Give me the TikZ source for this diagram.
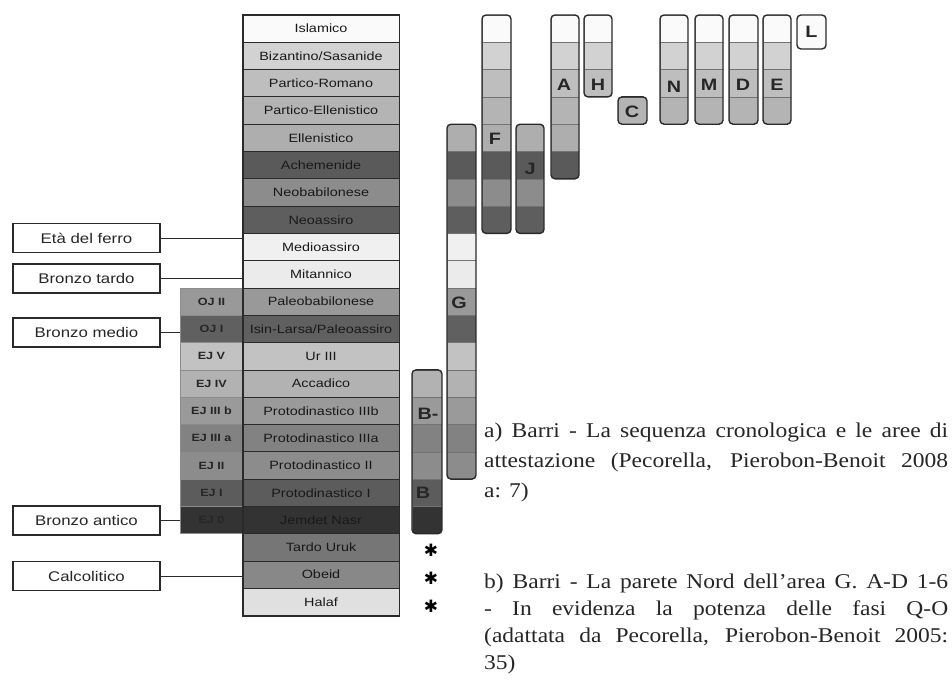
\documentclass[tikz,border=0pt]{standalone}
\usepackage{fontspec}
\setmainfont[FakeStretch=1.12]{Liberation Serif}
\newfontfamily\sansf[FakeStretch=1.2]{Liberation Sans}
\newfontfamily\symf{DejaVu Sans}
\definecolor{c0}{HTML}{FAFAFA}
\definecolor{c1}{HTML}{D2D2D2}
\definecolor{c2}{HTML}{BEBEBE}
\definecolor{c3}{HTML}{B4B4B4}
\definecolor{c4}{HTML}{AEAEAE}
\definecolor{c5}{HTML}{5A5A5A}
\definecolor{c6}{HTML}{8C8C8C}
\definecolor{c7}{HTML}{5E5E5E}
\definecolor{c8}{HTML}{F0F0F0}
\definecolor{c9}{HTML}{EBEBEB}
\definecolor{c10}{HTML}{999999}
\definecolor{c11}{HTML}{606060}
\definecolor{c12}{HTML}{C2C2C2}
\definecolor{c13}{HTML}{B2B2B2}
\definecolor{c14}{HTML}{9A9A9A}
\definecolor{c15}{HTML}{828282}
\definecolor{c16}{HTML}{8C8C8C}
\definecolor{c17}{HTML}{5C5C5C}
\definecolor{c18}{HTML}{333333}
\definecolor{c19}{HTML}{767676}
\definecolor{c20}{HTML}{888888}
\definecolor{c21}{HTML}{E0E0E0}
\definecolor{ink}{HTML}{2A2A2A}
\tikzset{
  cell/.style={draw=ink, line width=0.8pt, minimum width=156pt, minimum height=27.3pt,
    inner sep=0pt, font=\sansf\fontsize{12}{12}\selectfont, text=black!90},
  ejcell/.style={draw=black!45, line width=0.5pt, minimum width=63pt, minimum height=27.3pt,
    inner sep=0pt, font=\sansf\bfseries\fontsize{10.5}{10.5}\selectfont, text=black!85},
  period/.style={draw=ink, line width=1.2pt, minimum width=147pt, minimum height=29pt,
    inner sep=0pt, font=\sansf\fontsize{14}{14}\selectfont, text=black!85},
  link/.style={draw=ink, line width=1pt},
  colbox/.style={draw=ink, line width=1.4pt, rounded corners=4pt},
  letter/.style={font=\sansf\bfseries\fontsize{16.5}{16.5}\selectfont, text=black!85, inner sep=0pt},
  starmark/.style={font=\symf\fontsize{17}{17}\selectfont, text=black, inner sep=0pt},
  capt/.style={font=\fontsize{21}{27}\selectfont, inner sep=0pt, anchor=base west, text=black!85}
}
\newcommand\subcol[4]{%
  \begin{scope}
    \clip[rounded corners=4pt] (#1,{15+27.3*#3}) rectangle (#2,{15+27.3*(#4+1)});
    \foreach \r in {#3,...,#4}{%
      \fill[c\r, draw=black!55, line width=0.5pt] (#1,{15+27.3*\r}) rectangle (#2,{15+27.3*(\r+1)});}
  \end{scope}
  \draw[colbox] (#1,{15+27.3*#3}) rectangle (#2,{15+27.3*(#4+1)});}
\begin{document}
\begin{tikzpicture}[x=1pt,y=-1pt]
\useasboundingbox[fill=white] (0,0) rectangle (952,682);

% main chronological column
\node[cell, fill=c0]  (m0)  at (321,28.65)  {Islamico};
\node[cell, fill=c1]  (m1)  at (321,55.95)  {Bizantino/Sasanide};
\node[cell, fill=c2]  (m2)  at (321,83.25)  {Partico-Romano};
\node[cell, fill=c3]  (m3)  at (321,110.55) {Partico-Ellenistico};
\node[cell, fill=c4]  (m4)  at (321,137.85) {Ellenistico};
\node[cell, fill=c5]  (m5)  at (321,165.15) {Achemenide};
\node[cell, fill=c6]  (m6)  at (321,192.45) {Neobabilonese};
\node[cell, fill=c7]  (m7)  at (321,219.75) {Neoassiro};
\node[cell, fill=c8]  (m8)  at (321,247.05) {Medioassiro};
\node[cell, fill=c9]  (m9)  at (321,274.35) {Mitannico};
\node[cell, fill=c10] (m10) at (321,301.65) {Paleobabilonese};
\node[cell, fill=c11] (m11) at (321,328.95) {Isin-Larsa/Paleoassiro};
\node[cell, fill=c12] (m12) at (321,356.25) {Ur III};
\node[cell, fill=c13] (m13) at (321,383.55) {Accadico};
\node[cell, fill=c14] (m14) at (321,410.85) {Protodinastico IIIb};
\node[cell, fill=c15] (m15) at (321,438.15) {Protodinastico IIIa};
\node[cell, fill=c16] (m16) at (321,465.45) {Protodinastico II};
\node[cell, fill=c17] (m17) at (321,492.75) {Protodinastico I};
\node[cell, fill=c18] (m18) at (321,520.05) {Jemdet Nasr};
\node[cell, fill=c19] (m19) at (321,547.35) {Tardo Uruk};
\node[cell, fill=c20] (m20) at (321,574.65) {Obeid};
\node[cell, fill=c21] (m21) at (321,601.95) {Halaf};

% EJ / OJ column
\node[ejcell, fill=c10] (e10) at (211.5,301.65) {OJ II};
\node[ejcell, fill=c11] (e11) at (211.5,328.95) {OJ I};
\node[ejcell, fill=c12] (e12) at (211.5,356.25) {EJ V};
\node[ejcell, fill=c13] (e13) at (211.5,383.55) {EJ IV};
\node[ejcell, fill=c14] (e14) at (211.5,410.85) {EJ III b};
\node[ejcell, fill=c15] (e15) at (211.5,438.15) {EJ III a};
\node[ejcell, fill=c16] (e16) at (211.5,465.45) {EJ II};
\node[ejcell, fill=c17] (e17) at (211.5,492.75) {EJ I};
\node[ejcell, fill=c18] (e18) at (211.5,520.05) {EJ 0};
\draw[ink, line width=1pt] (e10.north east) -- (e18.south east);
\draw[ink, line width=1.8pt] (m0.north west) rectangle (m21.south east);

% period labels
\node[period] (ferro)  at (86.5,238)   {Età del ferro};
\node[period] (tardo)  at (86.5,278.5) {Bronzo tardo};
\node[period] (medio)  at (86.5,332.5) {Bronzo medio};
\node[period] (antico) at (86.5,520.5) {Bronzo antico};
\node[period] (calco)  at (86.5,576)   {Calcolitico};
\draw[link] (ferro.east)  -- (ferro.east -| m8.west);
\draw[link] (tardo.east)  -- (tardo.east -| m9.west);
\draw[link] (medio.east)  -- (medio.east -| e11.west);
\draw[link] (antico.east) -- (antico.east -| e18.west);
\draw[link] (calco.east)  -- (calco.east -| m20.west);

% attestation columns
\subcol{412}{442}{13}{18}
\subcol{447}{476}{4}{16}
\subcol{482}{511}{0}{7}
\subcol{516}{544}{4}{7}
\subcol{551}{579}{0}{5}
\subcol{584}{612}{0}{2}
\subcol{618}{647}{3}{3}
\subcol{660}{688}{0}{3}
\subcol{695}{723}{0}{3}
\subcol{729}{758}{0}{3}
\subcol{763}{791}{0}{3}
\draw[colbox, fill=c0] (797,15) rectangle (826,49);

\node[letter] (lB2) at (428,414)   {B-};
\node[letter] (lB)  at (423,493)   {B};
\node[letter] (lG)  at (459,303)   {G};
\node[letter] (lF)  at (495,139)   {F};
\node[letter] (lJ)  at (530,169)   {J};
\node[letter] (lA)  at (564,85)    {A};
\node[letter] (lH)  at (598,85)    {H};
\node[letter] (lC)  at (632,112)   {C};
\node[letter] (lN)  at (674,87)    {N};
\node[letter] (lM)  at (709,85)    {M};
\node[letter] (lD)  at (743,85)    {D};
\node[letter] (lE)  at (777,85)    {E};
\node[letter] (lL)  at (811.5,32)  {L};

\node[starmark] (s1) at (431,550) {✱};
\node[starmark] (s2) at (431,578) {✱};
\node[starmark] (s3) at (431,606) {✱};

% captions
\node[capt] (ca1) at (484,437) {\makebox[464pt][s]{a) Barri - La sequenza cronologica e le aree di}};
\node[capt] (ca2) at (484,467) {\makebox[464pt][s]{attestazione (Pecorella, Pierobon-Benoit 2008}};
\node[capt] (ca3) at (484,497) {a: 7)};
\node[capt] (cb1) at (484,588) {\makebox[464pt][s]{b) Barri - La parete Nord dell’area G. A-D 1-6}};
\node[capt] (cb2) at (484,615) {\makebox[464pt][s]{- In evidenza la potenza delle fasi Q-O}};
\node[capt] (cb3) at (484,642) {\makebox[464pt][s]{(adattata da Pecorella, Pierobon-Benoit 2005:}};
\node[capt] (cb4) at (484,669) {35)};
\end{tikzpicture}
\end{document}
